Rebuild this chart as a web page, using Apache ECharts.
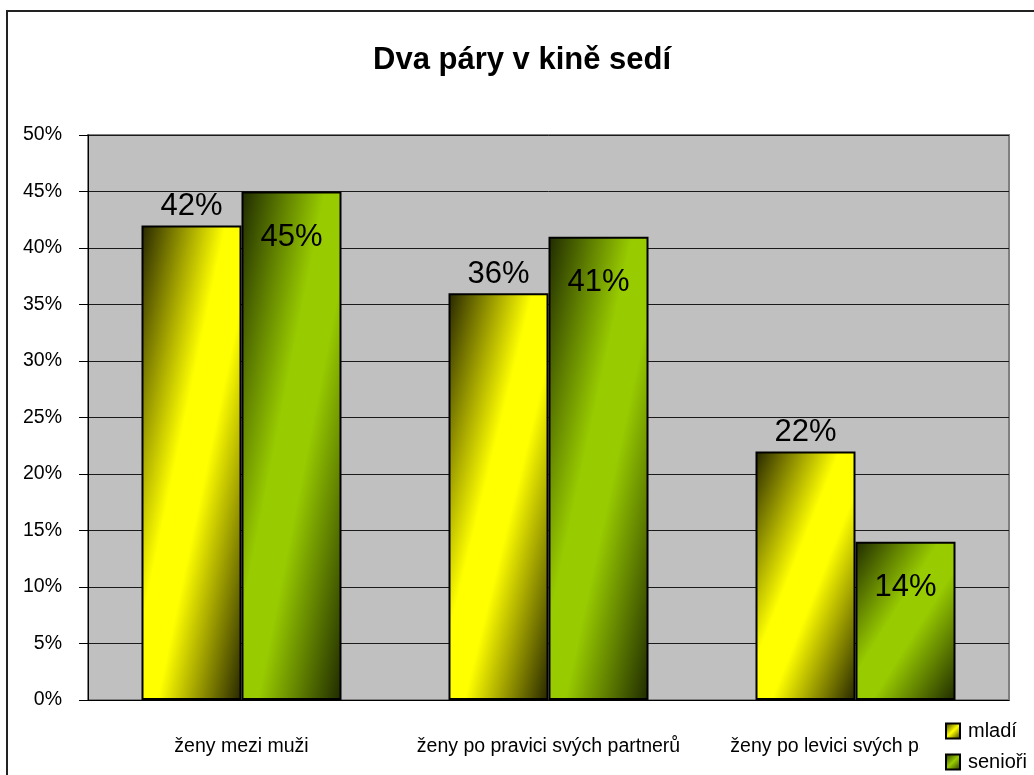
<!DOCTYPE html>
<html>
<head>
    <meta charset="utf-8">
    <script src="https://cdn.jsdelivr.net/npm/echarts@6/dist/echarts.min.js"></script>
</head>
<body style="margin:0;background-color:#ffffff">
    <div id="main" style="width:1034px;height:775px;"></div>
    <script type="text/javascript">

        var categories = ['ženy mezi muži', 'ženy po pravici svých partnerů', 'ženy po levici svých partnerů'];
        var mladi = [42, 36, 22];
        var seniori = [45, 41, 14];
        var yTicks = [0, 5, 10, 15, 20, 25, 30, 35, 40, 45, 50];

        var font = '"Liberation Sans", Arial, sans-serif';
        var plotTop = 135, plotBottom = 75, plotH = 775 - plotTop - plotBottom;
        var barW = 100;

        // diagonal gradient, dark in top-left and bottom-right corner, bright along the other diagonal
        function diagGrad(value, dark, bright) {
            var w = barW, h = value / yTicks[yTicks.length - 1] * plotH;
            var s = w * w + h * h;
            return new echarts.graphic.LinearGradient(0, 0, 2 * h * h / s, 2 * w * w / s, [
                {offset: 0, color: dark},
                {offset: 0.42, color: bright},
                {offset: 0.58, color: bright},
                {offset: 1, color: dark}
            ]);
        }
        function iconGrad(dark, bright) {
            return new echarts.graphic.LinearGradient(0, 0, 1, 1, [
                {offset: 0, color: dark},
                {offset: 0.5, color: bright},
                {offset: 1, color: dark}
            ]);
        }

        var myChart = echarts.init(document.getElementById('main'));

        option = {
            animation: false,
            backgroundColor: '#ffffff',
            graphic: [{
                type: 'rect',
                shape: {x: 7, y: 11, width: 1100, height: 900},
                style: {fill: 'none', stroke: '#222222', lineWidth: 2},
                z: 100
            }],
            title: {
                text: 'Dva páry v kině sedí',
                left: 368,
                top: 40,
                textStyle: {fontFamily: font, fontSize: 31, fontWeight: 'bold', color: '#000'}
            },
            // white legend box also hides the end of the last category label, as in the original
            legend: {
                orient: 'vertical',
                left: 920,
                top: 715,
                padding: [6, 10, 0, 25],
                backgroundColor: '#ffffff',
                itemWidth: 14,
                itemHeight: 15,
                itemGap: 11,
                icon: 'rect',
                textStyle: {fontFamily: font, fontSize: 20, color: '#000', padding: [0, 0, 0, 3]},
                data: ['mladí', 'senioři']
            },
            grid: {
                left: 88,
                right: 25,
                top: plotTop,
                bottom: plotBottom,
                show: true,
                backgroundColor: '#c0c0c0',
                borderColor: '#808080',
                borderWidth: 2
            },
            xAxis: {
                type: 'category',
                data: categories,
                axisLine: {lineStyle: {color: '#000', width: 1}},
                axisTick: {length: 10, lineStyle: {color: '#000'}},
                axisLabel: {interval: 0, fontFamily: font, fontSize: 19.5, color: '#000', margin: 37}
            },
            yAxis: {
                type: 'value',
                min: 0,
                max: 50,
                interval: 5,
                axisLine: {show: true, lineStyle: {color: '#000', width: 1}},
                axisTick: {show: true, length: 9, lineStyle: {color: '#000'}},
                splitLine: {lineStyle: {color: '#1a1a1a', width: 1}},
                axisLabel: {fontFamily: font, fontSize: 19.5, color: '#000', margin: 26, formatter: '{value}%'}
            },
            series: [{
                name: 'mladí',
                type: 'bar',
                barWidth: barW,
                barGap: '0%',
                itemStyle: {color: iconGrad('#262600', '#ffff00'), borderColor: '#000', borderWidth: 2},
                label: {
                    show: true,
                    position: 'top',
                    distance: 3,
                    formatter: '{c}%',
                    fontFamily: font,
                    fontSize: 31,
                    color: '#000'
                },
                data: mladi.map(function (v) {
                    return {value: v, itemStyle: {color: diagGrad(v, '#262600', '#ffff00')}};
                })
            }, {
                name: 'senioři',
                type: 'bar',
                barWidth: barW,
                itemStyle: {color: iconGrad('#1f2a00', '#99cc00'), borderColor: '#000', borderWidth: 2},
                label: {
                    show: true,
                    position: 'insideTop',
                    distance: 30,
                    formatter: '{c}%',
                    fontFamily: font,
                    fontSize: 31,
                    color: '#000'
                },
                data: seniori.map(function (v) {
                    return {value: v, itemStyle: {color: diagGrad(v, '#1f2a00', '#99cc00')}};
                })
            }]
        };

        myChart.setOption(option);
    </script>
</body>
</html>
